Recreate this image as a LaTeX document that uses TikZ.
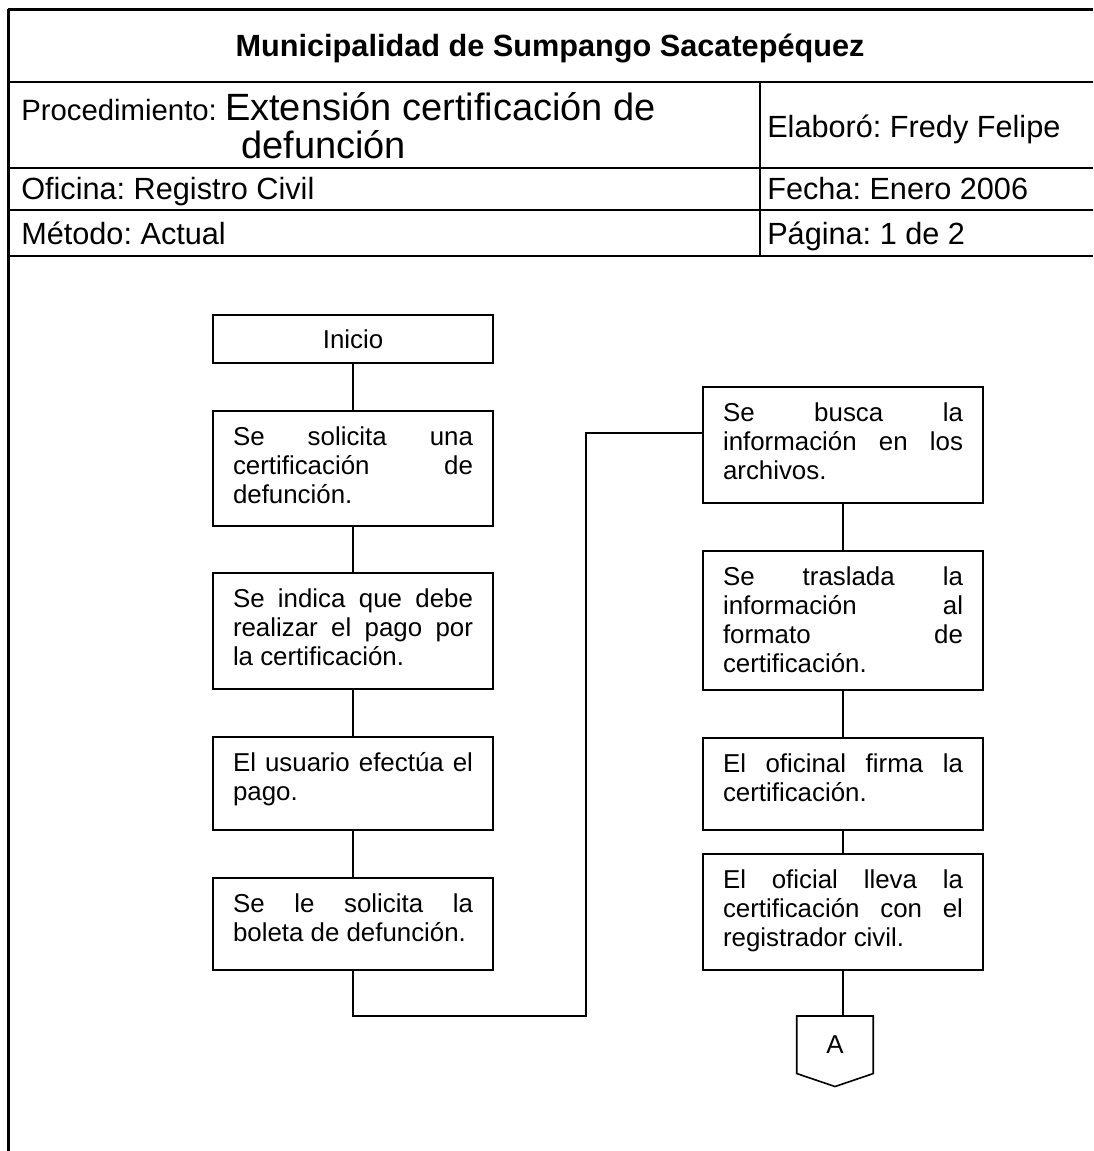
\documentclass[tikz,border=0pt]{standalone}
\usepackage{fontspec}
\setmainfont{Liberation Sans}
\usetikzlibrary{calc}
\hbadness=10000
\tolerance=10000
\frenchspacing
\newcommand\fcfont{\fontsize{19.4pt}{21.75pt}\selectfont}
\newcommand\fctext[2]{\parbox[b][#1][t]{180pt}{\fcfont\rule{0pt}{25.9pt}#2}}
\begin{document}
\begin{tikzpicture}[x=0.75pt,y=-0.75pt,
  frame/.style={line width=1.7pt},
  stepbox/.style={draw, line width=1.2pt, inner sep=0pt, inner xsep=15pt, anchor=north, fill=white},
  link/.style={line width=1.1pt},
  hdr/.style={anchor=base west, inner sep=0pt, font=\fontsize{23pt}{27pt}\selectfont}]
\useasboundingbox (0,0) rectangle (1093,1151);
% table frame
\draw[line width=2pt] (7.5,9.5) -- (1093,9.5);
\draw[frame] (8.5,9.5) -- (8.5,1151);
\draw[frame] (8,82) -- (1093,82);
\draw[frame] (8,168) -- (1093,168);
\draw[frame] (8,210) -- (1093,210);
\draw[frame] (8,256) -- (1093,256);
\draw[frame] (760,82) -- (760,256);
% header texts
\node[font=\bfseries\fontsize{23pt}{27pt}\selectfont, anchor=base, inner sep=0pt] (title) at (550,57) {Municipalidad de Sumpango Sacatepéquez};
\node[hdr, font=\fontsize{22pt}{26pt}\selectfont] (proc) at (21,121) {Procedimiento: {\fontsize{28.5pt}{34pt}\selectfont Extensión certificación de}};
\node[hdr, font=\fontsize{28.5pt}{34pt}\selectfont] (proc2) at (241,159) {defunción};
\node[hdr] (elab) at (767,138) {Elaboró: Fredy Felipe};
\node[hdr] (ofi) at (21,200) {Oficina: Registro Civil};
\node[hdr] (fecha) at (767,200) {Fecha: Enero 2006};
\node[hdr] (met) at (21,245) {Método: Actual};
\node[hdr] (pag) at (767,245) {Página: 1 de 2};
% left column
\node[stepbox, minimum width=210pt, minimum height=36pt, font=\fcfont] (ini) at (353,314) {Inicio};
\node[stepbox] (l1) at (353,410) {\fctext{86.25pt}{Se solicita una\linebreak certificación de\linebreak defunción.}};
\node[stepbox] (l2) at (353,572) {\fctext{87pt}{Se indica que debe\linebreak realizar el pago por\linebreak la certificación.}};
\node[stepbox] (l3) at (353,736) {\fctext{69.75pt}{El usuario efectúa el\linebreak pago.}};
\node[stepbox] (l4) at (353,877) {\fctext{69pt}{Se le solicita la\linebreak boleta de defunción.}};
% right column
\node[stepbox] (r1) at (843,386) {\fctext{87pt}{Se busca la\linebreak información en los\linebreak archivos.}};
\node[stepbox] (r2) at (843,550) {\fctext{104.25pt}{Se traslada la\linebreak información al\linebreak formato de\linebreak certificación.}};
\node[stepbox] (r3) at (843,737) {\fctext{69pt}{El oficinal firma la\linebreak certificación.}};
\node[stepbox] (r4) at (843,853) {\fctext{87pt}{El oficial lleva la\linebreak certificación con el\linebreak registrador civil.}};
% off-page connector
\node[anchor=north, minimum width=57pt, minimum height=42.75pt, inner sep=0pt, font=\fcfont] (a) at (835,1016) {A};
\draw[line width=1.2pt] (a.north west) -- (a.south west) -- ([yshift=-9.75pt]a.south) -- (a.south east) -- (a.north east) -- cycle;
% connectors
\draw[link] (ini) -- (l1);
\draw[link] (l1) -- (l2);
\draw[link] (l2) -- (l3);
\draw[link] (l3) -- (l4);
\coordinate (c1) at (586,1016);
\draw[link] (l4.south) |- (c1) |- ([yshift=-35.25pt]r1.north west);
\draw[link] (r1) -- (r2);
\draw[link] (r2) -- (r3);
\draw[link] (r3) -- (r4);
\draw[link] (r4.south) -- (r4.south |- a.north);
\end{tikzpicture}
\end{document}
